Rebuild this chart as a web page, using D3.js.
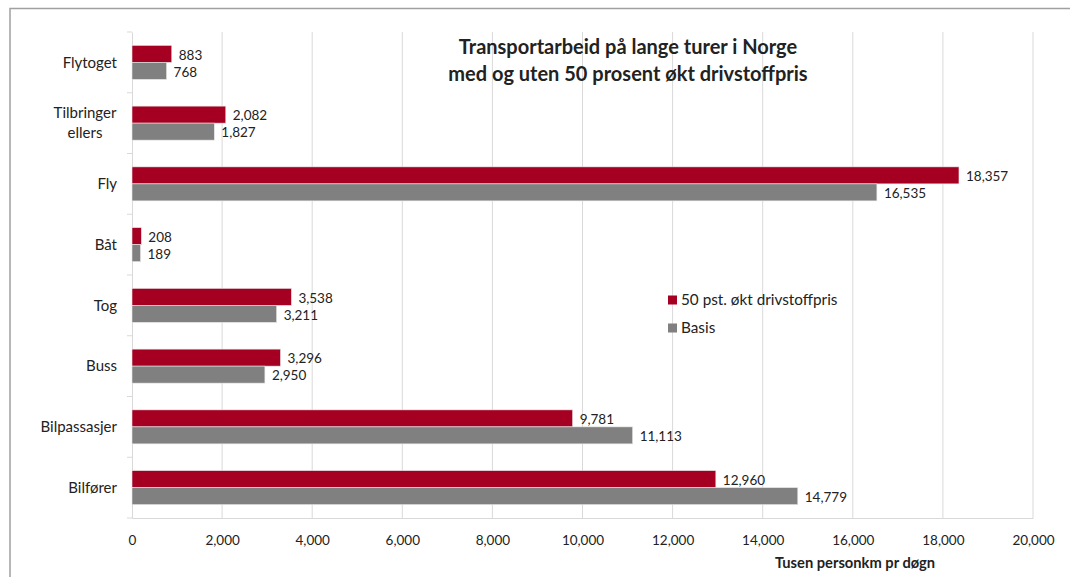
<!DOCTYPE html>
<html>
<head>
<meta charset="utf-8">
<style>
body { margin: 0; background: #fff; }
svg text { font-family: Lato, "Open Sans", sans-serif; fill: #222; }
</style>
</head>
<body>
<div id="chart"></div>
<script src="https://cdn.jsdelivr.net/npm/d3@7/dist/d3.min.js"></script>
<script>
var categories = ["Flytoget", "Tilbringer ellers", "Fly", "Båt", "Tog", "Buss", "Bilpassasjer", "Bilfører"];
var increased = [883, 2082, 18357, 208, 3538, 3296, 9781, 12960];
var basis = [768, 1827, 16535, 189, 3211, 2950, 11113, 14779];
var seriesNames = ["50 pst. økt drivstoffpris", "Basis"];
var xTicks = [0, 2000, 4000, 6000, 8000, 10000, 12000, 14000, 16000, 18000, 20000];

(function () {
  "use strict";

  var W = 1070, H = 577;
  var pLeft = 132, pRight = 1033, pTop = 32, pBottom = 518;
  var colors = ["#a50021", "#808080"];

  var svg = d3.select("#chart").append("svg")
    .attr("width", W)
    .attr("height", H);

  // outer frame (top and left edges)
  svg.append("path")
    .attr("d", "M10," + H + "V8.5H" + W)
    .attr("fill", "none")
    .attr("stroke", "#a0a0a0")
    .attr("stroke-width", 1.5);

  var x = d3.scaleLinear().domain([0, 20000]).range([pLeft, pRight]);
  var y = d3.scaleBand().domain(categories).range([pTop, pBottom]);
  var inner = d3.scaleBand().domain([0, 1]).range([0, 34]);

  // gridlines
  svg.append("g").selectAll("line")
    .data(xTicks.slice(1))
    .enter().append("line")
      .attr("x1", function (d) { return x(d); })
      .attr("x2", function (d) { return x(d); })
      .attr("y1", pTop)
      .attr("y2", pBottom)
      .attr("stroke", "#d9d9d9");

  // x axis
  var xAxis = svg.append("g")
    .attr("transform", "translate(0," + pBottom + ")")
    .call(d3.axisBottom(x).tickValues(xTicks).tickFormat(d3.format(",")).tickSize(0).tickPadding(17));
  xAxis.select(".domain").attr("stroke", "#d9d9d9");
  xAxis.selectAll("text").style("font-size", "13.5px").attr("fill", "#222");

  // y axis
  var yAxis = svg.append("g")
    .attr("transform", "translate(" + pLeft + ",0)")
    .call(d3.axisLeft(y).tickSize(0).tickFormat(""));
  yAxis.select(".domain").attr("stroke", "#d9d9d9");

  var bounds = d3.range(categories.length + 1).map(function (i) { return pTop + i * y.step(); });
  svg.append("g").selectAll("line")
    .data(bounds)
    .enter().append("line")
      .attr("x1", pLeft - 5)
      .attr("x2", pLeft)
      .attr("y1", function (d) { return d; })
      .attr("y2", function (d) { return d; })
      .attr("stroke", "#d9d9d9");

  // category labels
  svg.append("g").selectAll("text")
    .data(categories)
    .enter().append("text")
      .attr("x", 117)
      .attr("y", function (d) { return y(d) + y.bandwidth() / 2; })
      .style("font-size", "15px")
      .each(function (d) {
        var words = d.split(" ");
        var t = d3.select(this);
        t.attr("text-anchor", words.length > 1 ? "middle" : "end");
        words.forEach(function (w, i) {
          t.append("tspan")
            .attr("x", words.length > 1 ? 85 : 117)
            .attr("dy", i === 0 ? (0.35 - (words.length - 1) * 0.67) + "em" : "1.34em")
            .text(w);
        });
      });

  // bars
  var series = [increased, basis];
  var rows = [];
  series.forEach(function (vals, s) {
    vals.forEach(function (v, i) {
      rows.push({ cat: categories[i], s: s, v: v });
    });
  });

  var off = (y.bandwidth() - 34) / 2;
  svg.append("g").selectAll("rect")
    .data(rows)
    .enter().append("rect")
      .attr("x", x(0))
      .attr("y", function (d) { return y(d.cat) + off + inner(d.s); })
      .attr("width", function (d) { return x(d.v) - x(0); })
      .attr("height", inner.bandwidth())
      .attr("fill", function (d) { return colors[d.s]; })
      .attr("stroke", "#e8e8e8")
      .attr("stroke-width", 0.6);

  svg.append("g").selectAll("text")
    .data(rows)
    .enter().append("text")
      .attr("x", function (d) { return x(d.v) + 7; })
      .attr("y", function (d) { return y(d.cat) + off + inner(d.s) + inner.bandwidth() / 2 + 1; })
      .attr("dy", "0.35em")
      .style("font-size", "13.5px")
      .attr("fill", "#333")
      .text(function (d) { return d3.format(",")(d.v); });

  // title
  var title = svg.append("text")
    .attr("x", 628)
    .attr("y", 54)
    .attr("text-anchor", "middle")
    .style("font-size", "20px")
    .style("font-weight", "bold");
  title.append("tspan").attr("x", 628).text("Transportarbeid på lange turer i Norge");
  title.append("tspan").attr("x", 628).attr("dy", 27).text("med og uten 50 prosent økt drivstoffpris");

  // legend
  var legend = svg.append("g").selectAll("g")
    .data(seriesNames)
    .enter().append("g")
      .attr("transform", function (d, i) { return "translate(668," + (300 + i * 28) + ")"; });
  legend.append("rect")
    .attr("x", 0).attr("y", -4.5)
    .attr("width", 9).attr("height", 9)
    .attr("fill", function (d, i) { return colors[i]; });
  legend.append("text")
    .attr("x", 13)
    .attr("dy", "0.35em")
    .style("font-size", "15.3px")
    .text(function (d) { return d; });

  // axis title
  svg.append("text")
    .attr("x", 855)
    .attr("y", 568)
    .attr("text-anchor", "middle")
    .style("font-size", "14.7px")
    .style("font-weight", "bold")
    .text("Tusen personkm pr døgn");
})();
</script>
</body>
</html>
